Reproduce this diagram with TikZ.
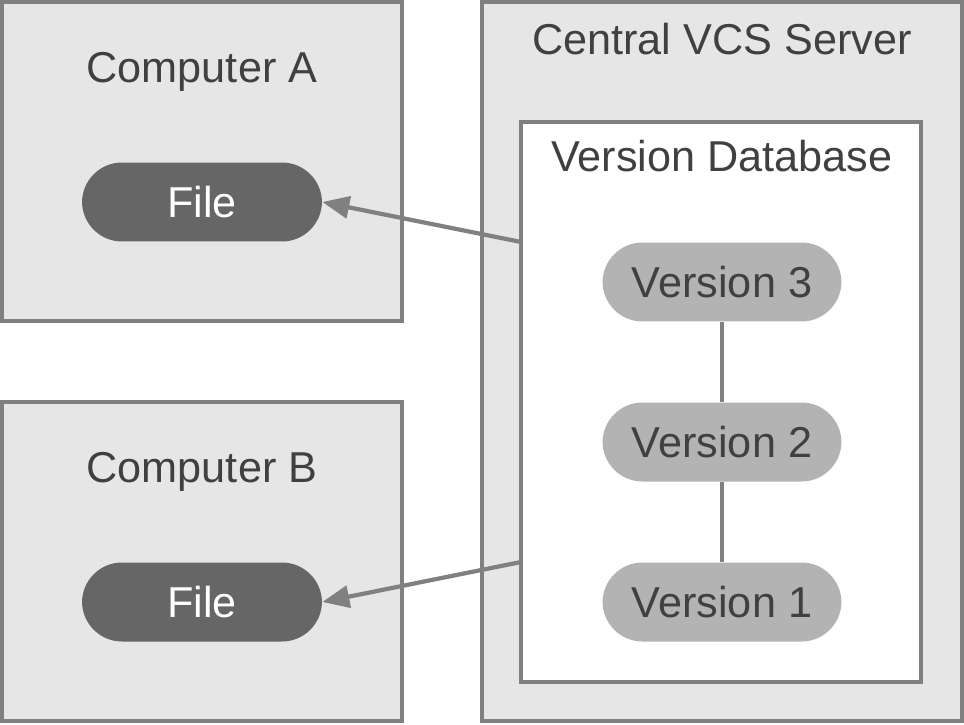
\documentclass[tikz,border=0pt]{standalone}
\usepackage{fontspec}
\setmainfont{Liberation Sans}
\usepackage{xcolor}
\usetikzlibrary{arrows.meta}
\definecolor{boxgray}{HTML}{808080}
\definecolor{boxfill}{HTML}{E6E6E6}
\definecolor{filefill}{HTML}{666666}
\definecolor{verfill}{HTML}{B3B3B3}
\definecolor{textgray}{HTML}{404040}

\begin{document}
\begin{tikzpicture}[x=0.02cm,y=-0.02cm,
  every node/.style={font=\fontsize{24.6}{29}\selectfont},
  machine/.style={draw=boxgray,fill=boxfill,line width=2.2pt,minimum width=8cm,minimum height=6.38cm},
  title/.style={text=textgray,inner sep=0pt,anchor=base},
  filepill/.style={fill=filefill,text=white,rounded corners=0.8cm,minimum width=4.8cm,minimum height=1.58cm},
  verpill/.style={fill=verfill,text=textgray,rounded corners=0.8cm,minimum width=4.78cm,minimum height=1.58cm},
  fetch/.style={draw=boxgray,line width=2.4pt,-{Triangle[length=0.54cm,width=0.44cm]}}]
\useasboundingbox (0,0) rectangle (964,724);
% machines
\node[machine] (compA) at (202,161.5) {};
\node[machine] (compB) at (202,561.5) {};
\node[machine,minimum width=9.6cm,minimum height=14.38cm] (server) at (722,361.5) {};
\node[draw=boxgray,fill=white,line width=2.2pt,minimum width=8cm,minimum height=11.2cm] (db) at (721,402) {};
% titles
\node[title] (titleA) at (202,82) {Computer A};
\node[title] (titleB) at (202,482) {Computer B};
\node[title] (titleS) at (722,54) {Central VCS Server};
\node[title] (titleD) at (722,171) {Version Database};
% files
\node[filepill] (fileA) at (202,202) {File};
\node[filepill] (fileB) at (202,602) {File};
% versions
\node[verpill] (v3) at (722,282) {Version 3};
\node[verpill] (v2) at (722,442) {Version 2};
\node[verpill] (v1) at (722,602) {Version 1};
\draw[boxgray,line width=2.2pt] (v3) -- (v2);
\draw[boxgray,line width=2.2pt] (v2) -- (v1);
% checkouts
\coordinate (srcA) at (521,242);
\coordinate (srcB) at (521,562);
\draw[fetch] (srcA) -- (fileA.east);
\draw[fetch] (srcB) -- (fileB.east);
\end{tikzpicture}
\end{document}
